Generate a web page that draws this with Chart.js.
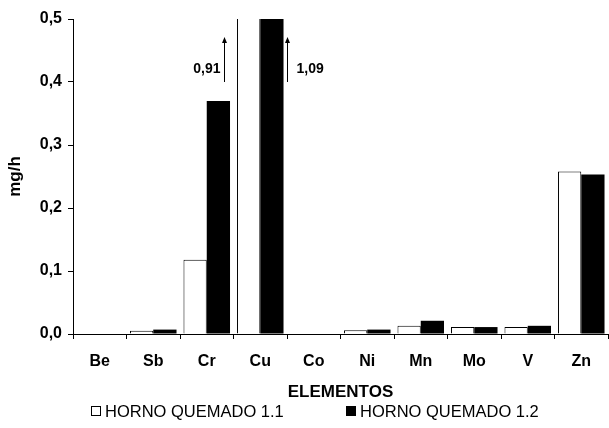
<!DOCTYPE html>
<html>
<head>
<meta charset="utf-8">
<script src="https://cdn.jsdelivr.net/npm/chart.js@4/dist/chart.umd.min.js"></script>
<style>
  html, body { margin: 0; padding: 0; background: #fff; }
  #wrap { width: 609px; height: 428px; }
</style>
</head>
<body>
<div id="wrap"><canvas id="grafico"></canvas></div>
<script>
// Datos del gráfico
const elementos = ['Be', 'Sb', 'Cr', 'Cu', 'Co', 'Ni', 'Mn', 'Mo', 'V', 'Zn'];
const horno11 = [0, 0.005, 0.118, 0.91, 0, 0.006, 0.013, 0.011, 0.011, 0.258];
const horno12 = [0, 0.007, 0.37, 1.09, 0, 0.007, 0.021, 0.011, 0.013, 0.253];
const nombresSeries = ['HORNO QUEMADO 1.1', 'HORNO QUEMADO 1.2'];
const ticksY = [0, 0.1, 0.2, 0.3, 0.4, 0.5];
// valores fuera de escala (serie, índice)
const fueraEscala = [
  { serie: 0, idx: 3, texto: '0,91' },
  { serie: 1, idx: 3, texto: '1,09' }
];

const fuente = 'Arial, "Liberation Sans", sans-serif';

// Plugin para las flechas de valores fuera de escala
const flechas = {
  id: 'flechas',
  afterDatasetsDraw(chart) {
    const ctx = chart.ctx;
    const y = chart.scales.y;
    ctx.save();
    ctx.strokeStyle = '#000';
    ctx.fillStyle = '#000';
    ctx.lineWidth = 1;
    ctx.font = 'bold 14px ' + fuente;
    ctx.textBaseline = 'middle';
    fueraEscala.forEach(f => {
      const bar = chart.getDatasetMeta(f.serie).data[f.idx];
      let x;
      if (f.serie === 0) {
        x = Math.round(bar.x - bar.width / 2 - 13) + 0.5;
        ctx.textAlign = 'right';
        ctx.fillText(f.texto, x - 4, y.getPixelForValue(0.42));
      } else {
        x = Math.round(bar.x + bar.width / 2 + 3) + 0.5;
        ctx.textAlign = 'left';
        ctx.fillText(f.texto, x + 9, y.getPixelForValue(0.42));
      }
      const y0 = y.getPixelForValue(0.4);
      const y1 = y.getPixelForValue(0.47);
      ctx.beginPath();
      ctx.moveTo(x, y0);
      ctx.lineTo(x, y1 + 3);
      ctx.stroke();
      ctx.beginPath();
      ctx.moveTo(x, y1 - 1);
      ctx.lineTo(x - 2.5, y1 + 5);
      ctx.lineTo(x + 2.5, y1 + 5);
      ctx.closePath();
      ctx.fill();
    });
    ctx.restore();
  }
};

// Plugin para la leyenda
const leyenda = {
  id: 'leyenda',
  afterDraw(chart) {
    const ctx = chart.ctx;
    const posX = [91, 346];
    ctx.save();
    ctx.font = '16.5px ' + fuente;
    ctx.textBaseline = 'middle';
    ctx.textAlign = 'left';
    chart.data.datasets.forEach((ds, i) => {
      const x = posX[i];
      const yc = 411;
      ctx.fillStyle = ds.backgroundColor;
      ctx.fillRect(x, yc - 5, 10, 10);
      ctx.strokeStyle = '#000';
      ctx.lineWidth = 1;
      ctx.strokeRect(x + 0.5, yc - 4.5, 9, 9);
      ctx.fillStyle = '#000';
      ctx.fillText(ds.label, x + 14, yc + 1);
    });
    ctx.restore();
  }
};

new Chart(document.getElementById('grafico'), {
  type: 'bar',
  data: {
    labels: elementos,
    datasets: [
      {
        label: nombresSeries[0],
        data: horno11,
        backgroundColor: '#ffffff',
        borderColor: '#000000',
        borderWidth: 1,
        borderSkipped: 'bottom'
      },
      {
        label: nombresSeries[1],
        data: horno12,
        backgroundColor: '#000000',
        borderColor: '#000000',
        borderWidth: 0
      }
    ]
  },
  options: {
    responsive: true,
    maintainAspectRatio: false,
    animation: false,
    devicePixelRatio: 1,
    categoryPercentage: 0.87,
    barPercentage: 1.0,
    layout: { padding: { top: 19, right: 1, bottom: 25, left: 0 } },
    plugins: {
      legend: { display: false },
      tooltip: { enabled: false }
    },
    scales: {
      x: {
        grid: { display: true, drawOnChartArea: false, drawTicks: true, tickLength: 5, color: '#000', offset: true },
        border: { display: true, color: '#000', width: 1 },
        ticks: { color: '#000', font: { family: fuente, size: 16, weight: 'bold' }, padding: 13, maxRotation: 0 },
        title: { display: true, text: 'ELEMENTOS', color: '#000', font: { family: fuente, size: 17, weight: 'bold' }, padding: { top: 4, bottom: 0 } },
        afterFit(scale) { scale.height = 69; }
      },
      y: {
        min: 0,
        max: 0.5,
        grid: { display: true, drawOnChartArea: false, drawTicks: true, tickLength: 5, color: '#000' },
        border: { display: true, color: '#000', width: 1 },
        afterBuildTicks(scale) { scale.ticks = ticksY.map(v => ({ value: v })); },
        ticks: {
          color: '#000',
          font: { family: fuente, size: 16, weight: 'bold' },
          padding: 6,
          callback: v => v.toFixed(1).replace('.', ',')
        },
        title: { display: true, text: 'mg/h', color: '#000', font: { family: fuente, size: 17, weight: 'bold' }, padding: { top: 5, bottom: 0 } },
        afterFit(scale) { scale.width = 73; }
      }
    }
  },
  plugins: [flechas, leyenda]
});
</script>
</body>
</html>
